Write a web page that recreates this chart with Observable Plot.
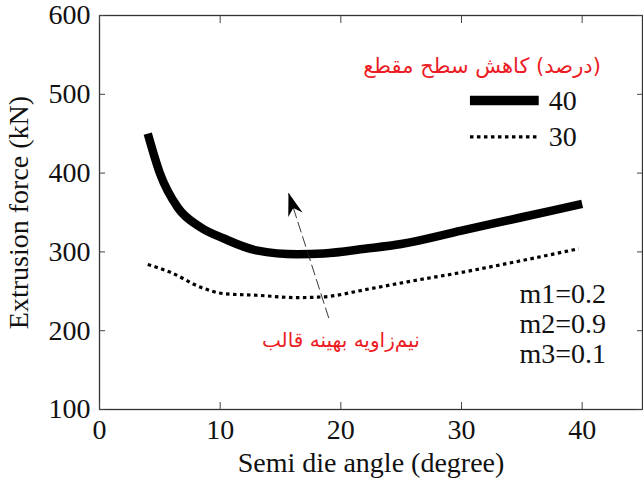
<!DOCTYPE html>
<html><head><meta charset="utf-8">
<script src="https://cdn.jsdelivr.net/npm/d3@7"></script>
<script src="https://cdn.jsdelivr.net/npm/@observablehq/plot@0.6"></script>
<style>body{margin:0;background:#fff}</style>
</head><body><div id="chart"></div>
<script>
// Series: cross-section reduction 40% and 30%
const angles40 = [4, 5, 6.5, 8.4, 10.3, 13, 16.4, 18.6, 22, 25, 30, 35, 40];
const force40  = [450, 400, 356, 331, 317, 302, 297, 298, 304, 310, 327, 344, 361];
const angles30 = [4, 5.9, 8.4, 10.3, 13, 16.4, 18.6, 22, 25.5, 30, 35, 39.7];
const force30  = [284, 274, 255, 247, 245, 242, 243, 252, 262, 274, 289, 304];

const xTicks = [0, 10, 20, 30, 40];
const yTicks = [100, 200, 300, 400, 500, 600];
const xLabel = "Semi die angle (degree)";
const yLabel = "Extrusion force (kN)";
const legendTitle = "\u202B(درصد) کاهش سطح مقطع\u202C";
const legendNames = ["40", "30"];
const noteText = "نیم\u200Cزاویه بهینه قالب";
const paramLabels = ["m1=0.2", "m2=0.9", "m3=0.1"];

// annotation anchors (data coordinates)
const legendTitlePos = {x: 31.7, y: 536};
const legendRows = [{x1: 30.7, x2: 36.4, y: 492, name: legendNames[0]}, {x1: 30.7, x2: 36.4, y: 446, name: legendNames[1]}];
const paramPos = [{x: 34.8, y: 247}, {x: 34.8, y: 209}, {x: 34.8, y: 171}];
const notePos = {x: 20.0, y: 188};
const arrowTail = {x: 19.0, y: 216};
const arrowHead = {x: 15.66, y: 375};

const s40 = angles40.map((a, i) => ({a, f: force40[i]}));
const s30 = angles30.map((a, i) => ({a, f: force30[i]}));

const stealth = {
  draw(ctx) {
    ctx.moveTo(0, 0);
    ctx.lineTo(-7.5, 23);
    ctx.lineTo(0, 16);
    ctx.lineTo(7.5, 23);
    ctx.closePath();
  }
};

const serif = "'Liberation Serif', 'Times New Roman', serif";
const red = "#ec1c24";

const chart = Plot.plot({
  width: 643, height: 481,
  marginLeft: 99, marginRight: 1, marginTop: 15, marginBottom: 72,
  style: {fontFamily: serif, fontSize: "27px", color: "#111", background: "#fff"},
  x: {domain: [0, 45]},
  y: {domain: [100, 600]},
  marks: [
    Plot.frame({stroke: "#333", strokeWidth: 1.3}),
    Plot.axisX(xTicks, {anchor: "bottom", tickSize: -7, tickPadding: 17, stroke: "#444", label: xLabel, labelAnchor: "center", labelOffset: 62, labelArrow: "none", fontSize: 28}),
    Plot.axisX(xTicks, {anchor: "top", tickSize: -7, tickFormat: () => "", stroke: "#444", label: null}),
    Plot.axisY(yTicks, {anchor: "left", tickSize: -6, tickPadding: 15, stroke: "#444", label: yLabel, labelAnchor: "center", labelOffset: 91, labelArrow: "none", fontSize: 28}),
    Plot.axisY(yTicks, {anchor: "right", tickSize: -6, tickFormat: () => "", stroke: "#444", label: null}),
    Plot.line(s40, {x: "a", y: "f", stroke: "#000", strokeWidth: 8.5, strokeLinecap: "butt", curve: "monotone-x"}),
    Plot.line(s30, {x: "a", y: "f", stroke: "#000", strokeWidth: 3.2, strokeLinecap: "butt", strokeDasharray: "3.5,3.5", curve: "monotone-x"}),
    // legend
    Plot.text([legendTitlePos], {x: "x", y: "y", text: () => legendTitle, fill: red, fontSize: 21, fontFamily: "'DejaVu Sans', sans-serif", textAnchor: "middle"}),
    Plot.link([legendRows[0]], {x1: "x1", x2: "x2", y1: "y", y2: "y", stroke: "#000", strokeWidth: 9.5, strokeLinecap: "butt"}),
    Plot.link([legendRows[1]], {x1: "x1", x2: "x2", y1: "y", y2: "y", stroke: "#000", strokeWidth: 3.2, strokeDasharray: "3.5,3.5", strokeLinecap: "butt"}),
    Plot.text(legendRows, {x: "x2", y: "y", text: "name", dx: 10, textAnchor: "start", fontSize: 28, fill: "#111"}),
    // parameters
    Plot.text(paramPos, {x: "x", y: "y", text: (d, i) => paramLabels[i], textAnchor: "start", fontSize: 28, fill: "#111"}),
    // annotation arrow
    Plot.link([{x1: arrowTail.x, y1: arrowTail.y, x2: arrowHead.x, y2: arrowHead.y}], {x1: "x1", y1: "y1", x2: "x2", y2: "y2", stroke: "#222", strokeWidth: 0.9, strokeDasharray: "11,4"}),
    Plot.dot([arrowHead], {x: "x", y: "y", symbol: stealth, fill: "#000", stroke: "none", rotate: -17.6}),
    Plot.text([notePos], {x: "x", y: "y", text: () => noteText, fill: red, fontSize: 20, fontFamily: "'DejaVu Sans', sans-serif", textAnchor: "middle"})
  ]
});
document.getElementById("chart").append(chart);
</script>
</body></html>
